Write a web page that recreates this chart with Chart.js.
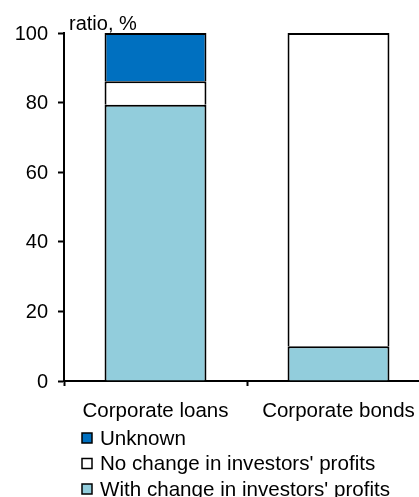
<!DOCTYPE html>
<html>
<head>
<meta charset="utf-8">
<script src="https://cdn.jsdelivr.net/npm/chart.js@4"></script>
<style>
  html, body { margin: 0; padding: 0; background: #fff; overflow: hidden; }
  #wrap { position: absolute; left: 0; top: 0; width: 432px; height: 497px; }
</style>
</head>
<body>
<div id="wrap"><canvas id="c" width="432" height="497"></canvas></div>
<script>
const categories = ["Corporate loans", "Corporate bonds"];
const withChange = [79.4, 10];
const noChange = [6.7, 90];
const unknown = [13.9, 0];
const seriesNames = ["With change in investors' profits", "No change in investors' profits", "Unknown"];
const seriesColors = ["#92CDDC", "#FFFFFF", "#0070C0"];
const yTicks = [0, 20, 40, 60, 80, 100];
const unitLabel = "ratio, %";

const FONT = "'Liberation Sans', Arial, sans-serif";

const series = [withChange, noChange, unknown];
const datasets = series.map((vals, i) => ({
  label: seriesNames[i],
  data: vals,
  backgroundColor: seriesColors[i],
  borderColor: "#000",
  borderWidth: 2,
  borderSkipped: 'start',
  barPercentage: 0.557,
  categoryPercentage: 1.0
}));

const extras = {
  id: 'extras',
  afterDraw(chart) {
    const ctx = chart.ctx;
    const a = chart.chartArea;
    ctx.save();
    ctx.fillStyle = "#000";
    ctx.font = "20px " + FONT;
    ctx.textBaseline = "alphabetic";
    ctx.textAlign = "left";
    ctx.fillText(unitLabel, a.left + 5, a.top - 3);
    // legend (reverse order, one item per row)
    ctx.font = "20.6px " + FONT;
    const ds = chart.data.datasets.slice().reverse();
    ds.forEach((d, i) => {
      const cy = a.bottom + 57 + i * 25.5;
      const bx = a.left + 18;
      ctx.fillStyle = d.backgroundColor;
      ctx.fillRect(bx, cy - 5, 10, 10);
      ctx.strokeStyle = "#000";
      ctx.lineWidth = 1.5;
      ctx.strokeRect(bx, cy - 5, 10, 10);
      ctx.fillStyle = "#000";
      ctx.textBaseline = "middle";
      ctx.fillText(d.label, bx + 18, cy + 1);
    });
    ctx.restore();
  }
};

new Chart(document.getElementById('c'), {
  type: 'bar',
  data: { labels: categories, datasets: datasets },
  options: {
    responsive: false,
    devicePixelRatio: 1,
    animation: false,
    layout: { padding: { top: 33, bottom: 76, left: 0, right: 2 } },
    plugins: { legend: { display: false }, tooltip: { enabled: false } },
    scales: {
      x: {
        stacked: true,
        afterFit(scale) { scale.height = 40; },
        grid: { display: true, drawOnChartArea: false, drawTicks: true, tickLength: 5, tickColor: "#000", tickWidth: 2, offset: true },
        border: { display: true, color: "#000", width: 2 },
        ticks: { color: "#000", font: { family: FONT, size: 20.5 }, padding: 13, maxRotation: 0, autoSkip: false }
      },
      y: {
        stacked: true,
        min: 0, max: 100,
        afterFit(scale) { scale.width = 64; },
        afterBuildTicks(scale) { scale.ticks = yTicks.map(v => ({ value: v })); },
        grid: { display: true, drawOnChartArea: false, drawTicks: true, tickLength: 6, tickColor: "#000", tickWidth: 2 },
        border: { display: true, color: "#000", width: 2 },
        ticks: { color: "#000", font: { family: FONT, size: 20 }, padding: 10, labelOffset: 1 }
      }
    }
  },
  plugins: [extras]
});
</script>
</body>
</html>
